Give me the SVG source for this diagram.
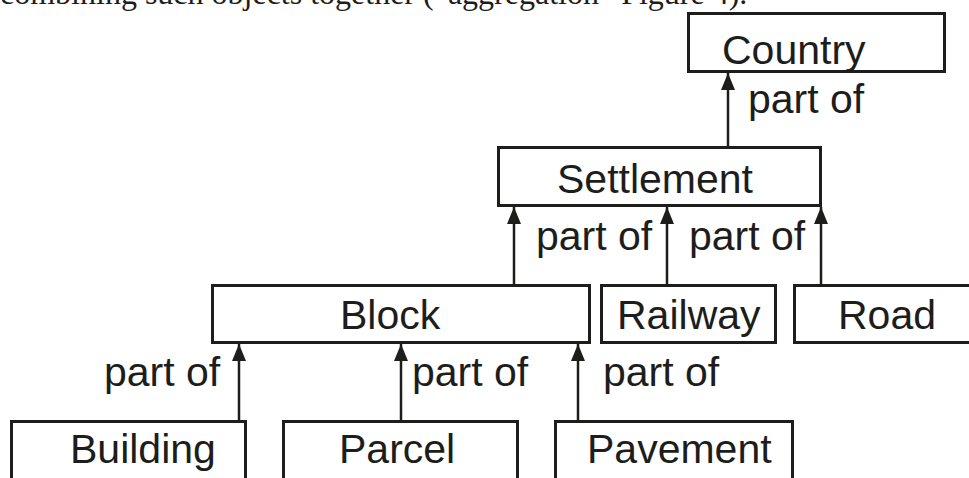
<svg xmlns="http://www.w3.org/2000/svg" width="969" height="478" viewBox="0 0 969 478">
<style>
.box{fill:#fff;stroke:#1d1d1b;stroke-width:3}
.lbl{font-family:"Liberation Sans",Arial,sans-serif;font-size:41px;fill:#1d1d1b}
.body{font-family:"Liberation Serif","Times New Roman",serif;font-size:32px;fill:#1d1d1b}
.con{stroke:#1d1d1b;stroke-width:2.5;fill:none;marker-end:url(#ah)}
</style>
<defs>
<marker id="ah" markerUnits="userSpaceOnUse" markerWidth="18" markerHeight="14" refX="17" refY="7" orient="auto">
<path d="M0,0 L17,7 L0,14 z" fill="#1d1d1b"/>
</marker>
</defs>
<rect width="969" height="478" fill="#fff"/>
<text class="body" x="0" y="4">combining such objects together (“aggregation” Figure 4).</text>
<g id="connectors">
<line class="con" x1="728" y1="146" x2="728" y2="73"/>
<line class="con" x1="514" y1="284" x2="514" y2="207"/>
<line class="con" x1="667" y1="284" x2="667" y2="207"/>
<line class="con" x1="821" y1="284" x2="821" y2="207"/>
<line class="con" x1="239" y1="420" x2="239" y2="344"/>
<line class="con" x1="401" y1="420" x2="401" y2="344"/>
<line class="con" x1="578" y1="420" x2="578" y2="344"/>
<text class="lbl" x="748" y="113">part of</text>
<text class="lbl" x="536" y="250">part of</text>
<text class="lbl" x="689" y="250">part of</text>
<text class="lbl" x="104" y="386">part of</text>
<text class="lbl" x="412" y="386">part of</text>
<text class="lbl" x="603" y="386">part of</text>
</g>
<g id="country"><rect class="box" x="688.5" y="13.5" width="256" height="58"/><text class="lbl" x="722" y="64">Country</text></g>
<g id="settlement"><rect class="box" x="498.5" y="147.5" width="322" height="58"/><text class="lbl" x="557" y="193">Settlement</text></g>
<g id="block"><rect class="box" x="212.5" y="285.5" width="377" height="57"/><text class="lbl" x="340" y="329">Block</text></g>
<g id="railway"><rect class="box" x="601.5" y="285.5" width="174" height="57"/><text class="lbl" x="617" y="329">Railway</text></g>
<g id="road"><rect class="box" x="794.5" y="285.5" width="200" height="57"/><text class="lbl" x="838" y="329">Road</text></g>
<g id="building"><rect class="box" x="11.5" y="421.5" width="234" height="80"/><text class="lbl" x="70" y="463">Building</text></g>
<g id="parcel"><rect class="box" x="283.5" y="421.5" width="234" height="80"/><text class="lbl" x="339" y="463">Parcel</text></g>
<g id="pavement"><rect class="box" x="555.5" y="421.5" width="237" height="80"/><text class="lbl" x="587" y="463">Pavement</text></g>
</svg>
